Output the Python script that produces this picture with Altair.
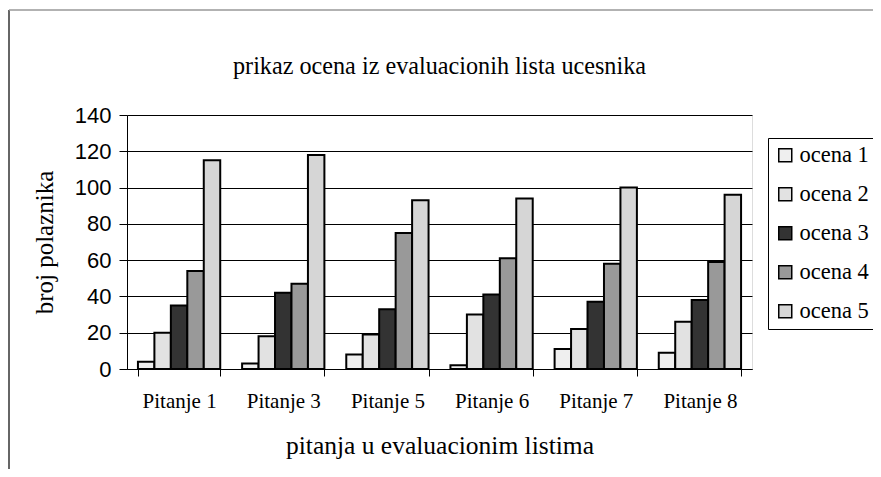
import altair as alt
import pandas as pd

pitanja = ["Pitanje 1", "Pitanje 3", "Pitanje 5", "Pitanje 6", "Pitanje 7", "Pitanje 8"]
ocene = ["ocena 1", "ocena 2", "ocena 3", "ocena 4", "ocena 5"]
ocena1 = [4, 3, 8, 2, 11, 9]
ocena2 = [20, 18, 19, 30, 22, 26]
ocena3 = [35, 42, 33, 41, 37, 38]
ocena4 = [54, 47, 75, 61, 58, 59]
ocena5 = [115, 118, 93, 94, 100, 96]
y_ticks = [0, 20, 40, 60, 80, 100, 120, 140]
fills = ["#efefef", "#e2e2e2", "#333333", "#999999", "#d6d6d6"]

series = [ocena1, ocena2, ocena3, ocena4, ocena5]
rows = []
for name, vals in zip(ocene, series):
    for p, v in zip(pitanja, vals):
        rows.append({"pitanje": p, "ocena": name, "broj": v})
df = pd.DataFrame(rows)

SERIF = "Liberation Serif"
SANS = "Liberation Sans"

bars = alt.Chart(df).mark_bar(stroke="black", strokeWidth=2).encode(
    x=alt.X(
        "pitanje:N",
        sort=pitanja,
        scale=alt.Scale(paddingInner=0.21, paddingOuter=0.105),
        axis=alt.Axis(
            title="pitanja u evaluacionim listima",
            labelAngle=0,
            tickBand="extent",
            tickSize=7,
            tickColor="black",
            domainColor="black",
            labelFont=SERIF,
            labelFontSize=21,
            labelColor="black",
            labelPadding=14,
            titleFont=SERIF,
            titleFontSize=25.5,
            titleFontWeight="normal",
            titleColor="black",
            titlePadding=22,
            grid=False,
        ),
    ),
    xOffset=alt.XOffset("ocena:N", sort=ocene, scale=alt.Scale(paddingInner=0, paddingOuter=0)),
    y=alt.Y(
        "broj:Q",
        scale=alt.Scale(domain=[0, 140], nice=False),
        axis=alt.Axis(
            title="broj polaznika",
            values=y_ticks,
            tickSize=8,
            tickColor="black",
            domainColor="black",
            labelFont=SANS,
            labelFontSize=22,
            labelColor="black",
            labelPadding=8,
            titleFont=SERIF,
            titleFontSize=25,
            titleFontWeight="normal",
            titleColor="black",
            titlePadding=17,
            grid=True,
            gridColor="black",
            gridWidth=1,
            gridOpacity=1,
        ),
    ),
    color=alt.Color(
        "ocena:N",
        scale=alt.Scale(domain=ocene, range=fills),
        legend=alt.Legend(
            title=None,
            orient="none",
            legendX=641,
            legendY=23,
            direction="vertical",
            fillColor="white",
            strokeColor="black",
            padding=6,
            symbolType="square",
            symbolSize=169,
            symbolStrokeColor="black",
            symbolStrokeWidth=1.5,
            labelFont=SERIF,
            labelFontSize=22.5,
            labelColor="black",
            labelOffset=3,
            rowPadding=16,
        ),
    ),
)

frame_df = pd.DataFrame({"a": [0]})
frame_left = alt.Chart(frame_df).mark_rule(color="#333333", strokeWidth=1.5).encode(
    x=alt.value(-118), y=alt.value(-105), y2=alt.value(362)
)
frame_top = alt.Chart(frame_df).mark_rule(color="#999999", strokeWidth=1.5).encode(
    x=alt.value(-118), x2=alt.value(746), y=alt.value(-105)
)

chart = alt.layer(bars, frame_left, frame_top).properties(
    width=625,
    height=254,
    title=alt.Title(
        "prikaz ocena iz evaluacionih lista ucesnika",
        font=SERIF,
        fontSize=24.2,
        fontWeight="normal",
        color="black",
        anchor="middle",
        frame="group",
        baseline="alphabetic",
        offset=-89,
    ),
    autosize=alt.AutoSizeParams(type="none"),
    padding={"left": 119, "top": 107, "right": 121, "bottom": 100},
).configure_view(
    fill="#c0c0c0", stroke="#808080", strokeWidth=1.5
).configure(background="white")

chart.save("out.html", embed_options={"renderer": "svg", "actions": False})
